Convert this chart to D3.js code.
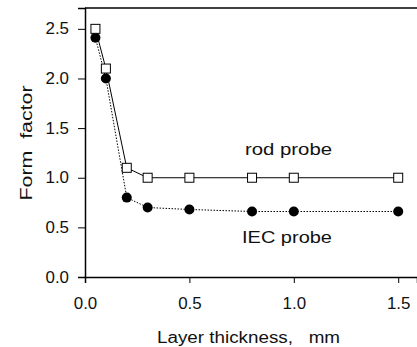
<!DOCTYPE html>
<html>
<head>
<meta charset="utf-8">
<script src="https://cdn.jsdelivr.net/npm/d3@7"></script>
<style>
  body { margin: 0; background: #fff; }
  text { font-family: "Liberation Sans", Arial, sans-serif; fill: #111; }
</style>
</head>
<body>
<svg id="chart" width="417" height="347"></svg>
<script>
// layer thickness (mm)
var thickness = [0.05, 0.1, 0.2, 0.3, 0.5, 0.8, 1.0, 1.5];
var rodProbe = [2.5, 2.1, 1.1, 1.0, 1.0, 1.0, 1.0, 1.0];
var iecProbe = [2.41, 2.0, 0.8, 0.7, 0.68, 0.66, 0.66, 0.66];
var xTicks = [0, 0.5, 1.0, 1.5];
var yTicks = [0, 0.5, 1.0, 1.5, 2.0, 2.5];

var svg = d3.select("svg#chart");

var margin = {left: 85, top: 8, right: 0, bottom: 70};
var width = 417 - margin.left - margin.right,
    height = 347 - margin.top - margin.bottom;

var x = d3.scaleLinear().domain([0, 1.59]).range([margin.left, margin.left + width]);
var y = d3.scaleLinear().domain([0, 2.71]).range([margin.top + height, margin.top]);

// frame top line
svg.append("line")
    .attr("x1", margin.left).attr("x2", 417)
    .attr("y1", margin.top).attr("y2", margin.top)
    .attr("stroke", "#000").attr("stroke-width", 1.5);

// axes
var xAxis = svg.append("g")
    .attr("transform", "translate(0," + (margin.top + height) + ")")
    .call(d3.axisBottom(x).tickValues(xTicks).tickFormat(d3.format(".1f")).tickSize(6).tickPadding(15));
var yAxis = svg.append("g")
    .attr("transform", "translate(" + margin.left + ",0)")
    .call(d3.axisLeft(y).tickValues(yTicks).tickFormat(d3.format(".1f")).tickSize(7).tickPadding(9));

[xAxis, yAxis].forEach(function(a) {
    a.attr("font-size", null).attr("font-family", null);
    a.select(".domain").attr("stroke", "#000").attr("stroke-width", 1.5);
    a.selectAll(".tick line").attr("stroke", "#000").attr("stroke-width", 1);
    a.selectAll(".tick text")
        .style("font-size", "16px")
        .attr("fill", "#111")
        .attr("textLength", 23.5)
        .attr("lengthAdjust", "spacingAndGlyphs");
});

// axis titles
svg.append("text")
    .attr("x", 248.5).attr("y", 343)
    .attr("text-anchor", "middle")
    .style("font-size", "16px")
    .attr("xml:space", "preserve")
    .attr("textLength", 183)
    .attr("lengthAdjust", "spacingAndGlyphs")
    .text("Layer thickness,   mm");

svg.append("text")
    .attr("transform", "translate(32,143) rotate(-90)")
    .attr("text-anchor", "middle")
    .style("font-size", "16px")
    .attr("xml:space", "preserve")
    .attr("textLength", 115)
    .attr("lengthAdjust", "spacingAndGlyphs")
    .text("Form  factor");

// lines
var probeLine = d3.line().x(function(d, i) { return x(thickness[i]); }).y(function(d) { return y(d); });

svg.append("path")
    .datum(iecProbe)
    .attr("d", probeLine)
    .attr("fill", "none")
    .attr("stroke", "#000")
    .attr("stroke-width", 1)
    .attr("stroke-dasharray", "1.5,1.5");

svg.append("path")
    .datum(rodProbe)
    .attr("d", probeLine)
    .attr("fill", "none")
    .attr("stroke", "#000")
    .attr("stroke-width", 1);

// markers
svg.append("g").selectAll("circle")
    .data(iecProbe)
    .enter()
    .append("circle")
    .attr("cx", function(d, i) { return x(thickness[i]); })
    .attr("cy", function(d) { return y(d); })
    .attr("r", 5)
    .attr("fill", "#000");

svg.append("g").selectAll("rect")
    .data(rodProbe)
    .enter()
    .append("rect")
    .attr("x", function(d, i) { return x(thickness[i]) - 4.5; })
    .attr("y", function(d) { return y(d) - 4.5; })
    .attr("width", 9).attr("height", 9)
    .attr("fill", "#fff")
    .attr("stroke", "#000")
    .attr("stroke-width", 1);

// series labels
svg.append("text")
    .attr("x", 245).attr("y", 155)
    .style("font-size", "16px")
    .attr("textLength", 87)
    .attr("lengthAdjust", "spacingAndGlyphs")
    .text("rod probe");

svg.append("text")
    .attr("x", 242).attr("y", 243)
    .style("font-size", "16px")
    .attr("textLength", 90)
    .attr("lengthAdjust", "spacingAndGlyphs")
    .text("IEC probe");
</script>
</body>
</html>
